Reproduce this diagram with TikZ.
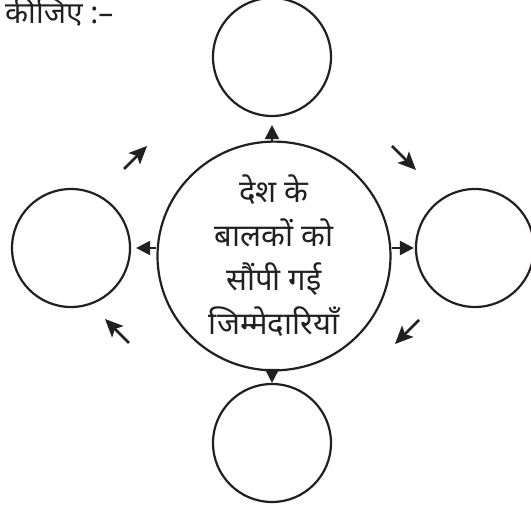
\documentclass[tikz,border=0pt]{standalone}
\usepackage{fontspec}
\newfontfamily\hindi[Script=Devanagari]{Noto Sans}
\usetikzlibrary{arrows.meta,shapes.geometric}
\definecolor{ink}{HTML}{231F20}
\tikzset{
  ar/.style={-{Triangle[length=14pt,width=14pt]},line width=2.2pt,ink},
  dg/.style={-{Stealth[length=18pt,width=16pt,inset=4pt]},line width=2.6pt,ink},
  bubble/.style={draw=ink,line width=2.2pt,circle,minimum size=118pt,inner sep=0pt},
  hub/.style={draw=ink,line width=2.2pt,ellipse,minimum width=233pt,minimum height=212pt,inner sep=0pt,align=center,text=ink,font=\hindi\fontsize{31}{44}\selectfont}
}

\begin{document}
\begin{tikzpicture}[x=1pt,y=-1pt]
\useasboundingbox (0,0) rectangle (531,510);
\node[anchor=base west,inner sep=0pt,text=ink,font=\hindi\fontsize{30}{34}\selectfont] (title) at (5,24) {कीजिए :–};
\node[hub] (hub) at (274,256) {देश के\\बालकों को\\सौंपी गई\\जिम्मेदारियाँ};
% four empty circles
\node[bubble] (up) at (272,57) {};
\node[bubble] (lft) at (71,248) {};
\node[bubble] (rgt) at (475,248) {};
\node[bubble] (dn) at (272,443) {};
\draw[ar,shorten >=8pt] (up.south |- hub.north) -- (up.south);
\draw[ar,shorten >=5pt] (hub.west |- lft.east) -- (lft.east);
\draw[ar,shorten >=1pt] (hub.east |- rgt.west) -- (rgt.west);
\draw[ar] (dn.north |- hub.south) -- (dn.north);
% loose diagonal arrows
\coordinate (tlA) at (124,169); \coordinate (tlB) at (147,146);
\coordinate (trA) at (392,146); \coordinate (trB) at (416,170);
\coordinate (brA) at (419,320); \coordinate (brB) at (395,344);
\coordinate (blA) at (129,343); \coordinate (blB) at (105,319);
\draw[dg] (tlA) -- (tlB);
\draw[dg] (trA) -- (trB);
\draw[dg] (brA) -- (brB);
\draw[dg] (blA) -- (blB);
\end{tikzpicture}
\end{document}
